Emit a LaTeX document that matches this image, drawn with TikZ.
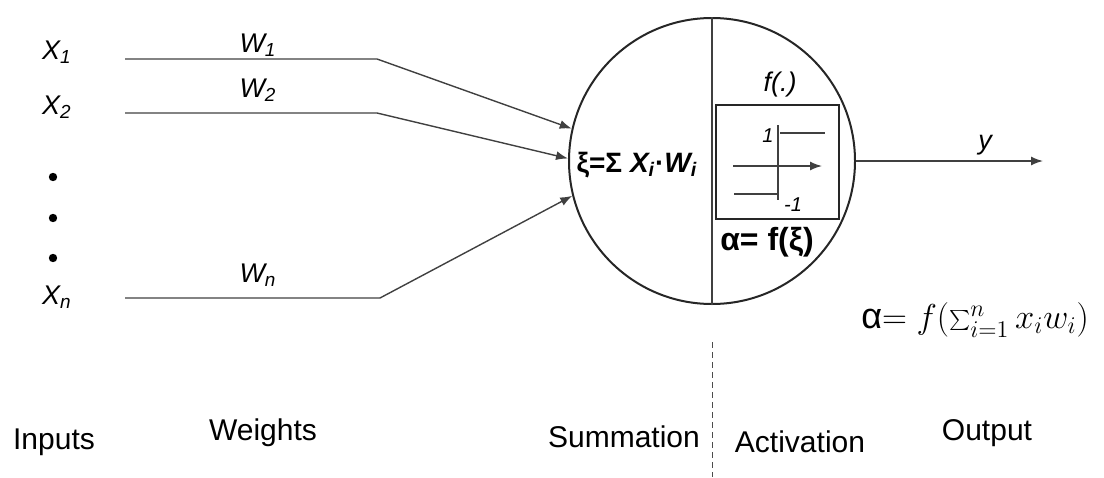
\documentclass[tikz,border=0pt]{standalone}
\usepackage{fontspec}
\setmainfont{Liberation Sans}
\usetikzlibrary{arrows.meta}
\begin{document}
\begin{tikzpicture}[x=0.5pt,y=-0.5pt,
  conn/.style={draw=black!75, line width=0.7pt},
  arr/.style={conn,-{Latex[length=6pt,width=4.5pt]}},
  lab/.style={inner sep=0pt, font=\fontsize{15}{18}\selectfont},
  inp/.style={inner sep=0pt, font=\itshape\fontsize{13.5}{16}\selectfont},
  wlab/.style={inner sep=0pt, font=\itshape\fontsize{13.5}{16}\selectfont},
  dotn/.style={circle, fill=black, inner sep=0pt, minimum size=4.2pt},
  small/.style={inner sep=0pt, font=\itshape\fontsize{10}{12}\selectfont}]
\useasboundingbox (0,0) rectangle (1104,477);
% neuron
\node[circle, draw=black!85, line width=1pt, minimum size=143pt, inner sep=0pt] (neuron) at (712,161) {};
\draw[conn] (neuron.north) -- (neuron.south);
% activation box
\node[draw=black!85, line width=1.1pt, minimum width=61.5pt, minimum height=57pt, inner sep=0pt] (act) at (777.5,162) {};
\draw[conn] (778,125) -- (778,200);
\draw[conn] (780,133) -- (825,133);
\draw[conn] (734,194) -- (778,194);
\draw[arr] (733,166) -- (822,166);
\node[small] (one) at (768,136) {1};
\node[small] (mone) at (793,205) {-1};
\node[inp] (fdot) at (780,85) {f(.)};
\node[inner sep=0pt, font=\bfseries\fontsize{16}{18}\selectfont] (alpha) at (767,242) {α= f(ξ)};
\node[inner sep=0pt, font=\bfseries\fontsize{14}{16}\selectfont] (sum) at (637,165) {ξ=Σ \textit{X\textsubscript{i}}·\textit{W\textsubscript{i}}};
% inputs
\node[inp] (x1) at (57,52) {X\textsubscript{1}};
\node[inp] (x2) at (57,107) {X\textsubscript{2}};
\node[inp] (xn) at (57,297) {X\textsubscript{n}};
\node[dotn] (d1) at (53,177) {};
\node[dotn] (d2) at (53,218) {};
\node[dotn] (d3) at (53,258) {};
% weights
\node[wlab] (w1) at (258,45) {W\textsubscript{1}};
\node[wlab] (w2) at (258,90) {W\textsubscript{2}};
\node[wlab] (wn) at (258,275) {W\textsubscript{n}};
% connectors
\coordinate (s1) at (125,59);
\coordinate (b1) at (377,59);
\coordinate (s2) at (125,113);
\coordinate (b2) at (377,113);
\coordinate (sn) at (125,298);
\coordinate (bn) at (380,298);
\draw[arr] (s1) -- (b1) -- (neuron.167);
\draw[arr] (s2) -- (b2) -- (neuron.179);
\draw[arr] (sn) -- (bn) -- (neuron.194);
% output
\coordinate (out) at (1043,161);
\draw[arr] (neuron.east) -- (out);
\node[inp] (y) at (985,145) {y};
\node[inner sep=0pt, font=\fontsize{18}{22}\selectfont] (formula) at (975,320) {α$=f(\sum_{i=1}^{n} x_i w_i)$};
% dashed separator
\coordinate (dtop) at (712,342);
\coordinate (dbot) at (712,477);
\draw[draw=black!70, line width=0.5pt, dash pattern=on 3pt off 2pt] (dtop) -- (dbot);
% bottom labels
\node[lab] (linp) at (54,442) {Inputs};
\node[lab] (lw) at (263,433) {Weights};
\node[lab] (lsum) at (624,437) {Summation};
\node[lab] (lact) at (800,442) {Activation};
\node[lab] (lout) at (987,433) {Output};
\end{tikzpicture}
\end{document}
